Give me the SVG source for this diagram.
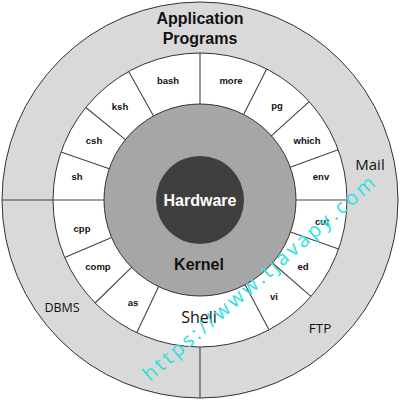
<svg xmlns="http://www.w3.org/2000/svg" width="400" height="400" viewBox="0 0 400 400">
<style>
.ring{stroke:#333;stroke-width:1}
.seg{stroke:#444;stroke-width:1.1;fill:none}
.lbl{font-family:"Liberation Sans",Arial,sans-serif;font-weight:bold;font-size:9.5px;fill:#111;text-anchor:middle}
.big{font-family:"Liberation Sans",Arial,sans-serif;font-weight:bold;font-size:16px;text-anchor:middle}
.app{font-family:"Open Sans","DejaVu Sans",sans-serif;fill:#111;text-anchor:middle}
</style>
<rect width="400" height="400" fill="#fff"/>
<g id="applications">
<circle class="ring" cx="200" cy="200" r="198" fill="#d9d9d9"/>
<text class="big" x="200" y="24" fill="#111">Application</text>
<text class="big" x="200" y="44" fill="#111">Programs</text>
<text class="app" x="370" y="170" font-size="15">Mail</text>
<text class="app" x="320" y="333" font-size="13.5">FTP</text>
<text class="app" x="62" y="312" font-size="12.5">DBMS</text>
</g>
<g id="shell">
<circle class="ring" cx="200" cy="200" r="147" fill="#fff"/>
<text class="app" x="199" y="323" font-size="16">Shell</text>
<text class="lbl" x="168" y="84">bash</text>
<text class="lbl" x="231" y="84">more</text>
<text class="lbl" x="277" y="109">pg</text>
<text class="lbl" x="307" y="144">which</text>
<text class="lbl" x="321" y="180">env</text>
<text class="lbl" x="322" y="225">cut</text>
<text class="lbl" x="303" y="270">ed</text>
<text class="lbl" x="274" y="300">vi</text>
<text class="lbl" x="133" y="306">as</text>
<text class="lbl" x="98" y="270">comp</text>
<text class="lbl" x="82" y="232">cpp</text>
<text class="lbl" x="77" y="180">sh</text>
<text class="lbl" x="94" y="144">csh</text>
<text class="lbl" x="120" y="110">ksh</text>
</g>
<g id="kernel">
<circle class="ring" cx="200" cy="200" r="96" fill="#a6a6a6"/>
<text class="big" x="199" y="270" fill="#111">Kernel</text>
</g>
<g id="hardware">
<circle cx="200" cy="200" r="44" fill="#3f3f3f"/>
<text class="big" x="200" y="206" fill="#fff">Hardware</text>
</g>
<g id="connectors">
<path class="seg" d="M296,200H347 M290.5,232L338.6,249.1 M272.5,263L310.9,296.4 M245.1,284.8L269,329.8 M158.7,286.6L136.7,332.7 M131.5,267.3L95.1,303 M111.6,237.5L64.7,257.4 M2,200H104 M109.2,168.7L61,152.1 M125.4,139.6L85.8,107.5 M153.5,116L128.7,71.4 M200,104V53 M243.6,114.5L266.7,69 M271.3,135.8L309.2,101.6 M290.2,167.2L338.1,149.7 M200,347V398"/>
</g>
<text x="0" y="0" transform="translate(150,382) rotate(-41)" font-family="'Open Sans','DejaVu Sans',sans-serif" font-size="20" fill="#2ee0e0" textLength="300" lengthAdjust="spacing">https://www.tjavapy.com</text>
</svg>
